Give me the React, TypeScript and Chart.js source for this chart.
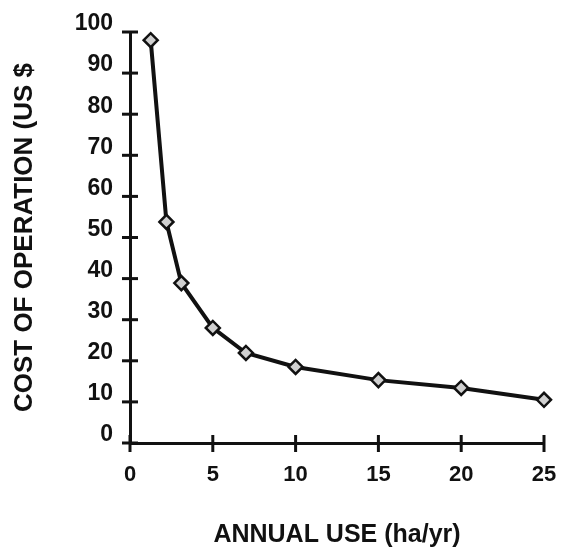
import React, { useEffect, useRef } from "react";
import { Chart, registerables } from "chart.js";

Chart.register(...registerables);

const annualUse = [1.25, 2.2, 3.1, 5, 7, 10, 15, 20, 25];
const costOfOperation = [98, 53.8, 38.9, 28, 21.9, 18.5, 15.3, 13.4, 10.5];
const xTicks = [0, 5, 10, 15, 20, 25];
const yTicks = [0, 10, 20, 30, 40, 50, 60, 70, 80, 90, 100];

const FONT = "'Liberation Sans', Arial, sans-serif";

const crossTicks = {
  id: "crossTicks",
  beforeDraw(chart: any) {
    const { ctx } = chart;
    ctx.save();
    ctx.fillStyle = "#ffffff";
    ctx.fillRect(0, 0, chart.width, chart.height);
    ctx.restore();
  },
  afterDraw(chart: any) {
    const { ctx, scales } = chart;
    const xs = scales.x;
    const ys = scales.y;
    const x0 = xs.getPixelForValue(0);
    const y0 = ys.getPixelForValue(0);
    ctx.save();
    ctx.strokeStyle = "#111";
    ctx.lineWidth = 3;
    ctx.lineCap = "butt";
    yTicks.forEach((v) => {
      const py = ys.getPixelForValue(v);
      ctx.beginPath();
      ctx.moveTo(x0 - 8, py);
      ctx.lineTo(x0 + 8, py);
      ctx.stroke();
    });
    xTicks.forEach((v) => {
      const px = xs.getPixelForValue(v);
      ctx.beginPath();
      ctx.moveTo(px, y0 - 8);
      ctx.lineTo(px, y0 + 9);
      ctx.stroke();
    });
    ctx.restore();
  },
};

export default function App() {
  const ref = useRef<HTMLCanvasElement>(null);
  useEffect(() => {
    document.body.style.margin = "0";
    const chart = new Chart(ref.current as HTMLCanvasElement, {
      type: "scatter",
      data: {
        datasets: [
          {
            data: annualUse.map((x, i) => ({ x, y: costOfOperation[i] })),
            showLine: true,
            borderColor: "#111",
            borderWidth: 4,
            pointStyle: "rectRot",
            pointRadius: 7,
            pointBackgroundColor: "#d0d0d0",
            pointBorderColor: "#111",
            pointBorderWidth: 2.5,
            clip: false as any,
          },
        ],
      },
      options: {
        animation: false,
        responsive: false,
        layout: { padding: { top: 32, right: 17, left: 0, bottom: 0 } },
        plugins: { legend: { display: false }, tooltip: { enabled: false } },
        scales: {
          x: {
            type: "linear",
            min: 0,
            max: 25,
            afterFit(scale: any) {
              scale.height = 113;
              scale.paddingLeft = 0;
              scale.paddingRight = 0;
            },
            afterBuildTicks(scale: any) {
              scale.ticks = xTicks.map((v) => ({ value: v }));
            },
            grid: { display: false, drawTicks: false, tickLength: 0 },
            border: { display: true, color: "#111", width: 3 },
            ticks: {
              padding: 19,
              color: "#111",
              font: { family: FONT, size: 22, weight: "bold" },
            },
            title: {
              display: true,
              text: "ANNUAL USE (ha/yr)",
              color: "#111",
              font: { family: FONT, size: 25, weight: "bold" },
              padding: { top: 0, bottom: 6 },
            },
          },
          y: {
            type: "linear",
            min: 0,
            max: 100,
            afterFit(scale: any) {
              scale.width = 130;
              scale.paddingTop = 0;
              scale.paddingBottom = 0;
            },
            afterBuildTicks(scale: any) {
              scale.ticks = yTicks.map((v) => ({ value: v }));
            },
            grid: { display: false, drawTicks: false, tickLength: 0 },
            border: { display: true, color: "#111", width: 3 },
            ticks: {
              padding: 17,
              labelOffset: -8,
              color: "#111",
              font: { family: FONT, size: 23, weight: "bold" },
            },
            title: {
              display: true,
              text: "COST OF OPERATION (US $",
              color: "#111",
              font: { family: FONT, size: 26, weight: "bold" },
              padding: { top: 9, bottom: 0 },
            },
          },
        },
      },
      plugins: [crossTicks],
    });
    return () => chart.destroy();
  }, []);
  return (
    <canvas
      ref={ref}
      width={561}
      height={556}
      style={{ display: "block", position: "absolute", left: 0, top: 0 }}
    />
  );
}
